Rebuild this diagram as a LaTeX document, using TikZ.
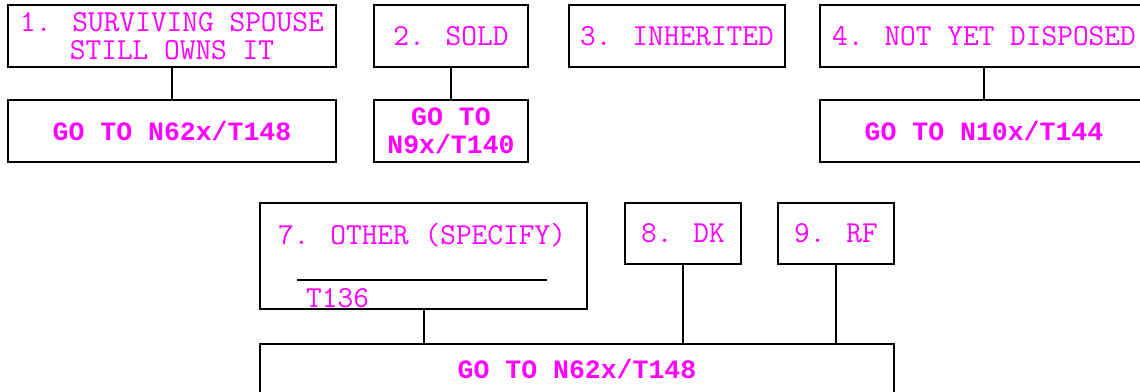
\documentclass[tikz,border=0pt]{standalone}
\usepackage{fontspec}
\newfontfamily\gomono{Liberation Mono}
\definecolor{mag}{RGB}{255,0,255}
\newcommand{\boxfont}{\fontsize{30.5}{27.5}\selectfont\ttfamily}
\newcommand{\gofont}{\fontsize{26.5}{28}\selectfont\gomono\bfseries}
\begin{document}
\begin{tikzpicture}[x=1pt,y=-1pt,
  box/.style={draw=black,line width=2pt,inner sep=0pt,text=mag,font=\boxfont,align=center},
  gobox/.style={box,font=\gofont},
  conn/.style={draw=black,line width=2pt},
  lbl/.style={inner sep=0pt,text=mag,font=\boxfont}]
\useasboundingbox (0,0) rectangle (1140,391);
\clip (0,0) rectangle (1140,391);
% top row
\node[box,minimum width=328pt,minimum height=62pt] (b1) at (172,36) {1. SURVIVING SPOUSE\\STILL OWNS IT};
\node[gobox,minimum width=328pt,minimum height=62pt] (g1) at (172,131) {GO TO N62x/T148};
\node[box,minimum width=154pt,minimum height=62pt] (b2) at (451,36) {2. SOLD};
\node[gobox,minimum width=154pt,minimum height=62pt] (g2) at (451,131) {GO TO\\N9x/T140};
\node[box,minimum width=216pt,minimum height=62pt] (b3) at (677,36) {3. INHERITED};
\node[box,minimum width=328pt,minimum height=62pt] (b4) at (984,36) {4. NOT YET DISPOSED};
\node[gobox,minimum width=328pt,minimum height=62pt] (g4) at (984,131) {GO TO N10x/T144};
\draw[conn] (b1.south) -- (g1.north);
\draw[conn] (b2.south) -- (g2.north);
\draw[conn] (b4.south) -- (g4.north);
% bottom row
\node[box,minimum width=327pt,minimum height=106pt] (b7) at (423.5,256) {};
\node[lbl] (t7) at (422,235) {7. OTHER (SPECIFY)};
\coordinate (s1) at (297,280);
\coordinate (s2) at (547,280);
\draw[conn] (s1) -- (s2);
\node[lbl,anchor=west] (t136) at (306,298) {T136};
\node[box,minimum width=116pt,minimum height=61pt] (b8) at (683,233.5) {8. DK};
\node[box,minimum width=116pt,minimum height=61pt] (b9) at (836,233.5) {9. RF};
\node[gobox,minimum width=634pt,minimum height=50pt] (g7) at (577,369) {GO TO N62x/T148};
\draw[conn] (b7.south) -- (b7.south |- g7.north);
\draw[conn] (b8.south) -- (b8.south |- g7.north);
\draw[conn] (b9.south) -- (b9.south |- g7.north);
\end{tikzpicture}
\end{document}
